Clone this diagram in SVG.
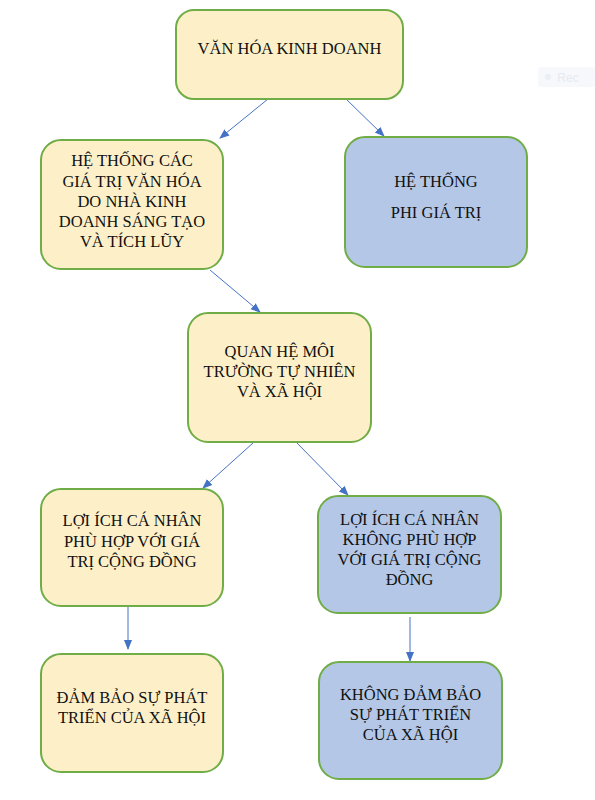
<svg xmlns="http://www.w3.org/2000/svg" width="595" height="800" viewBox="0 0 595 800">
<style>
  .y{fill:#fdf0c9;stroke:#70ad47;stroke-width:2}
  .b{fill:#b4c7e7;stroke:#70ad47;stroke-width:2}
  text{font-family:"Liberation Serif","Times New Roman",serif;font-size:16.5px;fill:#111;text-anchor:middle}
  .c{stroke:#4472c4;stroke-width:1;fill:none;marker-end:url(#ah)}
</style>
<defs>
  <marker id="ah" markerUnits="userSpaceOnUse" markerWidth="10" markerHeight="10" viewBox="0 0 10 10" refX="9" refY="5" orient="auto">
    <path d="M0,1 L10,5 L0,9 Z" fill="#4472c4"/>
  </marker>
</defs>
<rect width="595" height="800" fill="#fff"/>
<g id="watermark" opacity="0.35">
  <rect x="538" y="67" width="57" height="20" rx="3" fill="#e6ecf7"/>
  <circle cx="548" cy="77" r="3" fill="#c9d3e6"/>
  <text x="568" y="82" style="font-family:'Liberation Sans',sans-serif;font-size:12px;fill:#b8c2d6">Rec</text>
</g>
<g id="connectors">
  <line class="c" x1="268" y1="99" x2="220" y2="138"/>
  <line class="c" x1="346" y1="99" x2="384" y2="136"/>
  <line class="c" x1="210" y1="270" x2="260" y2="312"/>
  <line class="c" x1="253" y1="443" x2="203" y2="488"/>
  <line class="c" x1="297" y1="443" x2="348" y2="495"/>
  <line class="c" x1="128" y1="607" x2="128" y2="649"/>
  <line class="c" x1="410" y1="617" x2="410" y2="661"/>
</g>
<g id="n1">
  <rect class="y" x="176" y="10" width="227" height="89" rx="18"/>
  <text x="289.5" y="54">VĂN HÓA KINH DOANH</text>
</g>
<g id="n2">
  <rect class="y" x="41" y="140" width="182" height="129" rx="20"/>
  <text x="132" y="166">HỆ THỐNG CÁC</text>
  <text x="132" y="187">GIÁ TRỊ VĂN HÓA</text>
  <text x="132" y="207">DO NHÀ KINH</text>
  <text x="132" y="227">DOANH SÁNG TẠO</text>
  <text x="132" y="247">VÀ TÍCH LŨY</text>
</g>
<g id="n3">
  <rect class="b" x="345" y="137" width="182" height="130" rx="20"/>
  <text x="436" y="187">HỆ THỐNG</text>
  <text x="436" y="218">PHI GIÁ TRỊ</text>
</g>
<g id="n4">
  <rect class="y" x="188" y="313" width="183" height="129" rx="20"/>
  <text x="279.5" y="357">QUAN HỆ MÔI</text>
  <text x="279.5" y="377">TRƯỜNG TỰ NHIÊN</text>
  <text x="279.5" y="397">VÀ XÃ HỘI</text>
</g>
<g id="n5">
  <rect class="y" x="41" y="489" width="182" height="117" rx="20"/>
  <text x="132" y="526">LỢI ÍCH CÁ NHÂN</text>
  <text x="132" y="547">PHÙ HỢP VỚI GIÁ</text>
  <text x="132" y="567">TRỊ CỘNG ĐỒNG</text>
</g>
<g id="n6">
  <rect class="b" x="318" y="496" width="183" height="117" rx="20"/>
  <text x="409.5" y="525">LỢI ÍCH CÁ NHÂN</text>
  <text x="409.5" y="545">KHÔNG PHÙ HỢP</text>
  <text x="409.5" y="565">VỚI GIÁ TRỊ CỘNG</text>
  <text x="409.5" y="585">ĐỒNG</text>
</g>
<g id="n7">
  <rect class="y" x="41" y="654" width="182" height="118" rx="20"/>
  <text x="132" y="703">ĐẢM BẢO SỰ PHÁT</text>
  <text x="132" y="723">TRIỂN CỦA XÃ HỘI</text>
</g>
<g id="n8">
  <rect class="b" x="319" y="662" width="183" height="117" rx="20"/>
  <text x="410.5" y="700">KHÔNG ĐẢM BẢO</text>
  <text x="410.5" y="720">SỰ PHÁT TRIỂN</text>
  <text x="410.5" y="740">CỦA XÃ HỘI</text>
</g>
</svg>
